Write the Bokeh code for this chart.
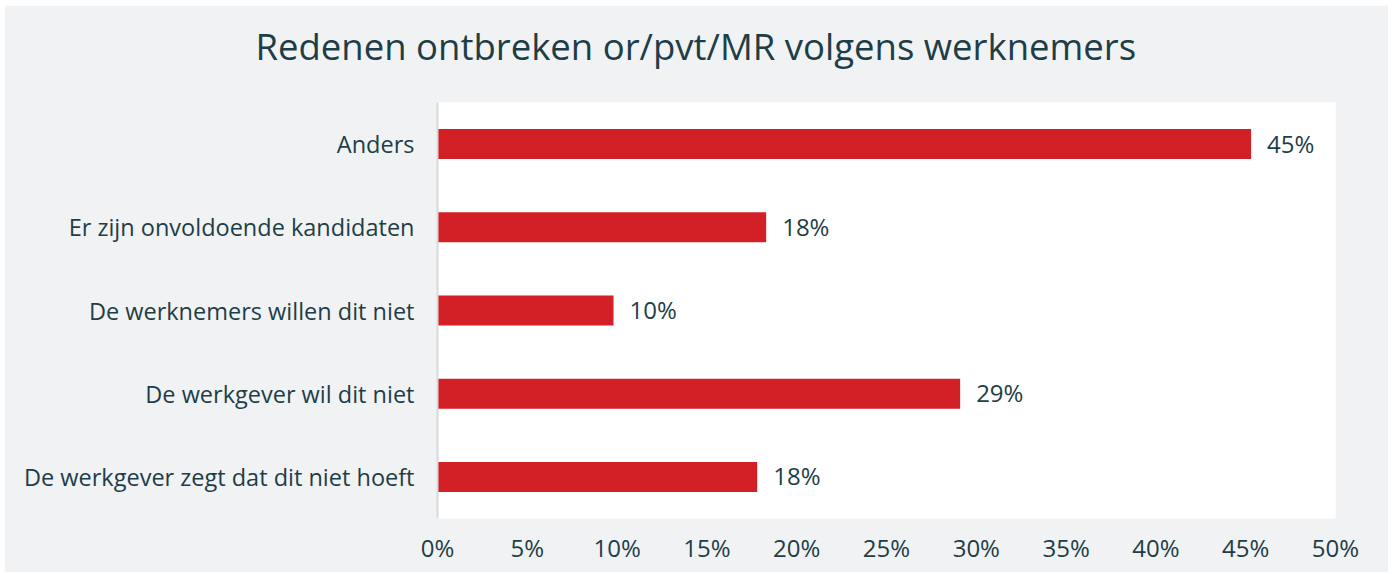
from bokeh.plotting import figure
from bokeh.models import ColumnDataSource, FixedTicker, CustomJSTickFormatter, Title
from bokeh.embed import file_html
from bokeh.resources import INLINE
from bokeh.core.properties import value

title_text = "Redenen ontbreken or/pvt/MR volgens werknemers"
categories = ["De werkgever zegt dat dit niet hoeft", "De werkgever wil dit niet",
              "De werknemers willen dit niet", "Er zijn onvoldoende kandidaten", "Anders"]
values = [17.8, 29.1, 9.8, 18.3, 45.3]
labels = ["18%", "29%", "10%", "18%", "45%"]
ticks = [0, 5, 10, 15, 20, 25, 30, 35, 40, 45, 50]

FONT = "Open Sans"
TXT = "#1e3e47"
BG = "#f1f2f4"

src = ColumnDataSource(dict(cat=categories, val=values, lab=labels))

p = figure(y_range=categories, x_range=(0, 50), width=1384, height=567,
           output_backend="svg", toolbar_location=None,
           min_border_left=433, min_border_right=53, min_border_top=97, min_border_bottom=54)
p.margin = (5, 4, 2, 4)
p.background_fill_color = "white"
p.border_fill_color = BG
p.outline_line_color = None

# spacer between title and plot area
p.add_layout(Title(text=" ", text_font_size="1px", standoff=27), "above")
p.add_layout(Title(text=title_text, align="left", offset=-182, vertical_align="top",
                   standoff=0, text_font=FONT, text_font_size="36.5px",
                   text_font_style="normal", text_color=TXT), "above")

p.hbar(y="cat", right="val", height=0.36, left=0, source=src, color="#d32027", line_color=None)
p.text(x="val", y="cat", text="lab", source=src, x_offset=16, y_offset=-1, text_baseline="middle",
       text_font=value(FONT), text_font_size="24px", text_color=TXT)

p.xgrid.grid_line_color = None
p.ygrid.grid_line_color = None

p.xaxis.ticker = FixedTicker(ticks=ticks)
p.xaxis.formatter = CustomJSTickFormatter(code="return tick + '%';")
p.xaxis.axis_line_color = None
p.xaxis.major_tick_line_color = None
p.xaxis.minor_tick_line_color = None
p.xaxis.major_label_standoff = 6
p.xaxis.major_label_text_font = FONT
p.xaxis.major_label_text_font_size = "24px"
p.xaxis.major_label_text_color = TXT

p.yaxis.axis_line_color = "#d9d9d9"
p.yaxis.axis_line_width = 2
p.yaxis.major_tick_line_color = None
p.yaxis.minor_tick_line_color = None
p.yaxis.major_label_standoff = 17
p.yaxis.major_label_text_font = FONT
p.yaxis.major_label_text_font_size = "23.5px"
p.yaxis.major_label_text_color = TXT

open("out.html", "w").write(file_html(p, INLINE))
